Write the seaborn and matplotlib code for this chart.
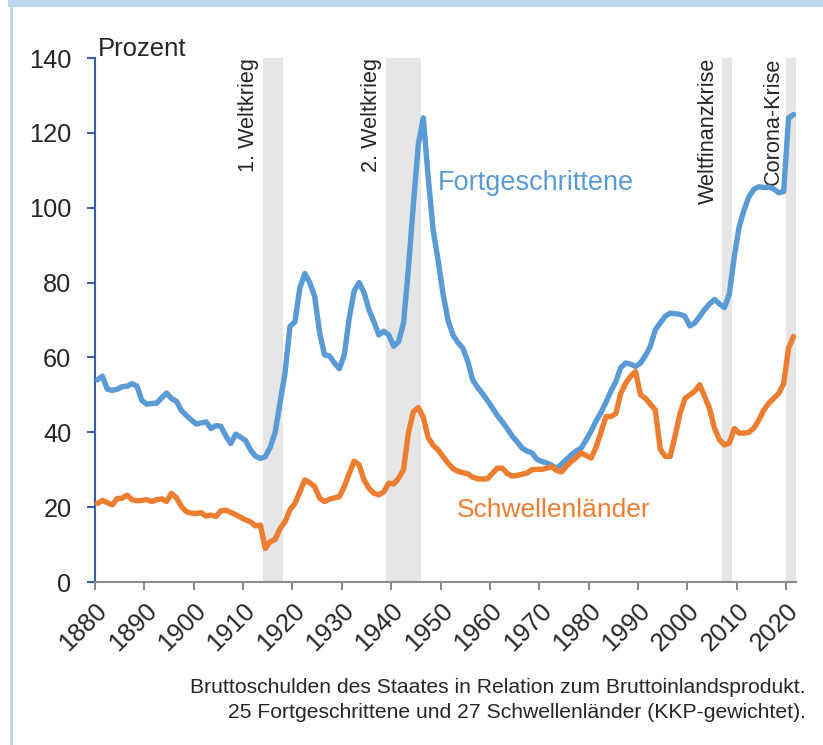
import seaborn as sns
import matplotlib.pyplot as plt
import pandas as pd
from matplotlib.patches import Rectangle
from matplotlib.lines import Line2D

# Staatsverschuldung in % des BIP, Jahreswerte 1880-2021
years = list(range(1880, 2022))

fortgeschrittene = [
    54, 55, 51.5, 51.2, 51.5, 52.2, 52.3, 53, 52.3, 48.5,
    47.5, 47.7, 47.8, 49.2, 50.5, 49, 48.3, 45.8, 44.5, 43.3,
    42.2, 42.5, 42.8, 41, 41.8, 41.6, 39, 37, 39.5, 38.7,
    37.8, 35.3, 33.6, 33, 33.5, 36, 40, 48, 56, 68.3,
    69.5, 78.6, 82.4, 80, 76.3, 66.6, 60.7, 60.4, 58.5, 57,
    60.7, 70.5, 77.8, 80, 77.3, 72.7, 69.5, 66, 67, 66,
    63, 64.2, 69.2, 84, 101, 117, 124, 108, 94, 86,
    77, 70, 66, 64, 62.5, 59, 54, 52, 50.3, 48.5,
    46.5, 44.5, 42.8, 41, 39, 37.5, 35.8, 35, 34.5, 32.8,
    32.2, 31.8, 31.2, 30.3, 31.5, 32.7, 34, 35, 35.8, 38,
    40.3, 43, 45.3, 48, 51, 53.5, 57.3, 58.5, 58.2, 57.6,
    58.5, 60.5, 63, 67.4, 69.2, 71, 71.8, 71.7, 71.5, 71,
    68.4, 69.2, 71, 72.8, 74.3, 75.5, 74.3, 73.3, 77, 87,
    95, 99.5, 103, 105, 105.6, 105.4, 105.5, 105, 104, 104.3,
    124, 124.9,
]

schwellenlaender = [
    21, 21.8, 21.2, 20.6, 22.3, 22.4, 23.2, 22, 21.7, 21.8,
    22, 21.5, 22, 22.2, 21.5, 23.7, 22.5, 20.2, 18.8, 18.4,
    18.3, 18.5, 17.6, 17.9, 17.5, 19, 19.2, 18.6, 18, 17.3,
    16.6, 16.1, 15, 15.2, 9, 10.8, 11.4, 14.3, 16.1, 19.3,
    21, 24.1, 27.3, 26.5, 25.5, 22.4, 21.5, 22.1, 22.5, 22.8,
    25.5, 29, 32.3, 31.3, 27.3, 25, 23.7, 23.3, 24.1, 26.4,
    26.2, 27.7, 30, 40, 45.5, 46.6, 44, 38.5, 36.5, 35.3,
    33.5, 31.8, 30.3, 29.6, 29.2, 28.9, 28, 27.6, 27.5, 27.6,
    29, 30.4, 30.4, 29, 28.3, 28.5, 28.8, 29.1, 30, 30.1,
    30.1, 30.4, 30.8, 29.8, 29.4, 31, 32.2, 33.3, 34.5, 33.8,
    33.1, 36, 40, 44.2, 44.2, 45, 50.4, 53.1, 55, 56.2,
    50, 49.1, 47.5, 46, 35.5, 33.6, 33.5, 39, 45, 49,
    50, 51, 52.7, 49.5, 46.3, 41, 38, 36.6, 37.1, 41,
    39.8, 39.8, 40, 41.2, 43.3, 46, 47.8, 49.1, 50.4, 53,
    62.5, 65.6,
]

krisen = [("1. Weltkrieg", 1914, 1918, 1911.0),
          ("2. Weltkrieg", 1939, 1946, 1936.1),
          ("Weltfinanzkrise", 2007, 2009, 2004.2),
          ("Corona-Krise", 2020, 2022, 2017.4)]

blue = "#5B9BD5"
orange = "#ED7D31"

# Jahreswerte in der Jahresmitte
df = pd.DataFrame({
    "Jahr": [y + 0.5 for y in years] * 2,
    "Prozent": fortgeschrittene + schwellenlaender,
    "Gruppe": ["Fortgeschrittene"] * len(years) + ["Schwellenländer"] * len(years),
})

sns.set_theme(style="white")
plt.rcParams["font.family"] = ["Liberation Sans", "DejaVu Sans"]

fig = plt.figure(figsize=(8.23, 7.45), dpi=100)
ax = fig.add_axes([95 / 823, 163 / 745, 701 / 823, 524 / 745])

for name, start, end, xtext in krisen:
    ax.axvspan(start, end, color="#E6E6E6", lw=0, zorder=0)
    ax.text(xtext, 140, name, rotation=90, ha="center", va="top", fontsize=15.6)

sns.lineplot(data=df, x="Jahr", y="Prozent", hue="Gruppe",
             palette={"Fortgeschrittene": blue, "Schwellenländer": orange},
             linewidth=3.9, legend=False, ax=ax, zorder=3)

ax.text(1949.5, 106.5, "Fortgeschrittene", color=blue, fontsize=19.5, va="center", ha="left")
ax.text(1953.3, 19.3, "Schwellenländer", color=orange, fontsize=19, va="center", ha="left")

ax.set_xlim(1880, 2022)
ax.set_ylim(0, 140)
ax.set_xticks(range(1880, 2021, 10))
ax.set_yticks(range(0, 141, 20))
ax.set_xlabel("")
ax.set_ylabel("")
ax.text(0.004, 1.004, "Prozent", transform=ax.transAxes, fontsize=18.5, va="baseline")

for side in ["top", "right"]:
    ax.spines[side].set_visible(False)
ax.spines["left"].set_color("#3A5FA8")
ax.spines["left"].set_linewidth(1.5)
ax.spines["bottom"].set_color("#8C8C8C")
ax.spines["bottom"].set_linewidth(1.5)
ax.tick_params(axis="y", direction="out", length=6, width=1.5, color="#3A5FA8",
               labelsize=18.3, pad=11, left=True)
ax.tick_params(axis="x", direction="out", length=6, width=1.5, color="#8C8C8C",
               labelsize=18.3, pad=6, bottom=True)
plt.setp(ax.get_xticklabels(), rotation=45, ha="right", rotation_mode="anchor")

fig.text(806 / 823, 1 - 700 / 745,
         "Bruttoschulden des Staates in Relation zum Bruttoinlandsprodukt.\n"
         "25 Fortgeschrittene und 27 Schwellenländer (KKP-gewichtet).",
         ha="right", va="center", fontsize=15.2, linespacing=1.45, multialignment="right")

# Rahmen
fig.add_artist(Rectangle((8 / 823, 1 - 7 / 745), 1, 7 / 745, color="#BDD7EE", lw=0))
fig.add_artist(Line2D([11 / 823, 11 / 823], [0, 1], color="#BDD7EE", lw=2))

fig.savefig("out.png", dpi=100)
